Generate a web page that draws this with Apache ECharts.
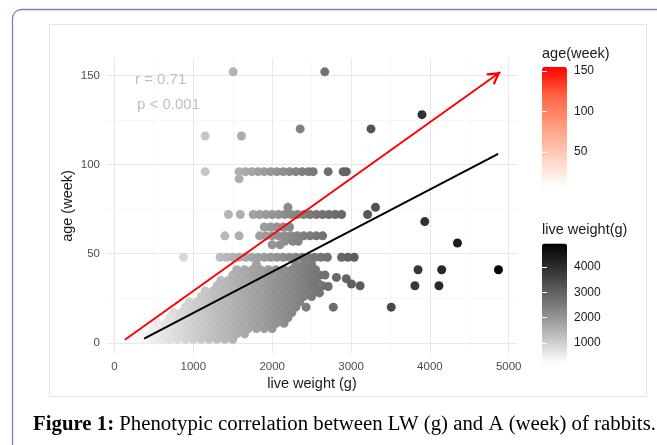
<!DOCTYPE html>
<html>
<head>
<meta charset="utf-8">
<script src="https://cdn.jsdelivr.net/npm/echarts@6/dist/echarts.min.js"></script>
<style>html,body{margin:0;padding:0;background:#fff;}#c{width:657px;height:445px;}</style>
</head>
<body>
<div id="c"></div>
<script>
// ---- tick labels ----
const xTicks = [0, 1000, 2000, 3000, 4000, 5000];
const xMinor = [500, 1500, 2500, 3500, 4500];
const yTicks = [0, 50, 100, 150];
const yMinor = [25, 75, 125];
const ageLegendTicks = [50, 100, 150];
const weightLegendTicks = [1000, 2000, 3000, 4000];

// ---- dense rows of observations: age (week) and live weights (g) ----
const rowAges = [2, 5, 8, 11, 14, 17, 20, 23, 26, 29, 32, 35, 38, 41, 44, 48, 60, 65, 72, 96];
const rowWeights = [
  [300,400,500,600,700,800,900,1000,1100,1200,1300,1400,1500],
  [350,450,550,650,750,850,950,1050,1150,1250,1350,1450,1550,1650],
  [500,600,700,800,900,1000,1100,1200,1300,1400,1500,1600,1700,1800,1900,2000],
  [550,650,750,850,950,1050,1150,1250,1350,1450,1550,1650,1750,1850,1950,2050,2150],
  [700,800,900,1000,1100,1200,1300,1400,1500,1600,1700,1800,1900,2000,2100,2200],
  [750,850,950,1050,1150,1250,1350,1450,1550,1650,1750,1850,1950,2050,2150,2250],
  [900,1000,1100,1200,1300,1400,1500,1600,1700,1800,1900,2000,2100,2200,2300,2430,2775,3510],
  [950,1050,1150,1250,1350,1450,1550,1650,1750,1850,1950,2050,2150,2250,2350],
  [1100,1200,1300,1400,1500,1600,1700,1800,1900,2000,2100,2200,2300,2400,2500],
  [1150,1250,1350,1450,1550,1650,1750,1850,1950,2050,2150,2250,2350,2450,2550],
  [1300,1400,1500,1600,1700,1800,1900,2000,2100,2200,2300,2400,2500,2600,2640,3115],
  [1350,1450,1550,1650,1750,1850,1950,2050,2150,2250,2350,2450,2535],
  [1500,1600,1700,1800,1900,2000,2100,2200,2300,2400,2500,2600,2670],
  [1550,1650,1750,1850,1950,2050,2150,2250,2350,2450,2550,3850,4150,4870],
  [1800,2300,2400,2500],
  [875,1340,1420,1500,1580,1660,1740,1820,1900,1980,2060,2140,2220,2300,2380,2460,2540,2620,2700,2880,2960,3040],
  [1400,1580,1840,1920,2000,2080,2160,2240,2320,2400,2480,2560,2640],
  [1900,1980,2060,2140,2220],
  [1445,1595,1760,1840,1920,2000,2080,2160,2240,2320,2400,2480,2560,2640,2720,2800,2880,3210],
  [1150,1580,1660,1740,1820,1900,1980,2060,2140,2220,2300,2380,2460,2520,2710,2900,2940]
];

// ---- scattered single observations ----
const extraWeight = [1506, 2667, 3900, 2355, 3253, 1150, 1610, 1580, 2200, 3310, 3935, 4350, 2160, 2260, 2330, 2000, 2100, 3810, 4115, 2815, 2940, 3005, 2710, 2580, 2600];
const extraAge    = [152,  152,  128,  120,  120,  116,  116,  92,   76,   76,   68,   56,   57,   57,   57,   55,   55,   32,   32,   36.7, 36,   33,   31.6, 33.6, 28];

// ---- fitted line and arrow ----
const regLine = [[376, 2.4], [4866, 106]];
const arrowLine = [[132, 1.7], [4894, 151.9]];

// ---- annotation texts ----
const statR = 'r = 0.71';
const statP = 'p < 0.001';
const captionBold = 'Figure 1:';
const captionText = ' Phenotypic correlation between LW (g) and A (week) of rabbits.';

// colour scales (Lab-like interpolation stops)
const greyStops = ['#ffffff', '#b9b9b9', '#777777', '#3b3b3b', '#000000'];
const redStops = ['#ffffff', '#ffcfbe', '#ff9e81', '#ff6846', '#ff0000'];

const scatterData = [];
rowAges.forEach((a, i) => rowWeights[i].forEach(w => scatterData.push([w, a])));
extraWeight.forEach((w, i) => scatterData.push([w, extraAge[i]]));

const chart = echarts.init(document.getElementById('c'), null, {renderer: 'canvas'});
const FONT = 'Liberation Sans';
const wMin = 190, wMax = 4930, aMin = 7, aMax = 155;
const plain = v => String(v);

const option = {
  animation: false,
  backgroundColor: '#ffffff',
  textStyle: {fontFamily: FONT},
  grid: [
    {left: 107, top: 58.5, width: 410, height: 295},
    {left: 542, top: 67, width: 25, height: 120},
    {left: 542, top: 243.5, width: 25, height: 120}
  ],
  xAxis: [
    {gridIndex: 0, type: 'value', min: -95, max: 5105,
     axisLine: {show: false}, axisTick: {show: false, customValues: xTicks},
     axisLabel: {customValues: xTicks, formatter: plain, color: '#4d4d4d', fontSize: 11.5, margin: 7, fontFamily: FONT},
     splitLine: {show: true, lineStyle: {color: '#e8e8e8', width: 1}},
     name: 'live weight (g)', nameLocation: 'middle', nameGap: 23, nameMoveOverlap: false,
     nameTextStyle: {fontSize: 14.5, color: '#1a1a1a', fontFamily: FONT}},
    {gridIndex: 0, type: 'value', position: 'top', min: -95, max: 5105,
     axisLine: {show: false}, axisTick: {show: false, customValues: xMinor},
     axisLabel: {show: false, customValues: xMinor},
     splitLine: {show: true, lineStyle: {color: '#f3f3f3', width: 0.7}}},
    {gridIndex: 1, type: 'value', show: false, min: 0, max: 1},
    {gridIndex: 2, type: 'value', show: false, min: 0, max: 1}
  ],
  yAxis: [
    {gridIndex: 0, type: 'value', min: -6, max: 159.5,
     axisLine: {show: false}, axisTick: {show: false, customValues: yTicks},
     axisLabel: {customValues: yTicks, formatter: plain, color: '#4d4d4d', fontSize: 11.5, margin: 7, fontFamily: FONT},
     splitLine: {show: true, lineStyle: {color: '#e8e8e8', width: 1}},
     name: 'age (week)', nameLocation: 'middle', nameGap: 32, nameMoveOverlap: false,
     nameTextStyle: {fontSize: 14.5, color: '#1a1a1a', fontFamily: FONT}},
    {gridIndex: 0, type: 'value', position: 'right', min: -6, max: 159.5,
     axisLine: {show: false}, axisTick: {show: false, customValues: yMinor},
     axisLabel: {show: false, customValues: yMinor},
     splitLine: {show: true, lineStyle: {color: '#f3f3f3', width: 0.7}}},
    {gridIndex: 1, type: 'value', position: 'right', min: aMin, max: aMax, z: 10,
     axisLine: {show: false},
     axisTick: {show: true, inside: true, length: 5, lineStyle: {color: '#ffffff', width: 1}, customValues: ageLegendTicks},
     axisLabel: {customValues: ageLegendTicks, formatter: plain, fontSize: 12, color: '#1a1a1a', margin: 7, fontFamily: FONT},
     splitLine: {show: false}},
    {gridIndex: 1, type: 'value', position: 'left', min: aMin, max: aMax, z: 10,
     axisLine: {show: false},
     axisTick: {show: true, inside: true, length: 5, lineStyle: {color: '#ffffff', width: 1}, customValues: ageLegendTicks},
     axisLabel: {show: false, customValues: ageLegendTicks}, splitLine: {show: false}},
    {gridIndex: 2, type: 'value', position: 'right', min: wMin, max: wMax, z: 10,
     axisLine: {show: false},
     axisTick: {show: true, inside: true, length: 5, lineStyle: {color: '#ffffff', width: 1}, customValues: weightLegendTicks},
     axisLabel: {customValues: weightLegendTicks, formatter: plain, fontSize: 12, color: '#1a1a1a', margin: 7, fontFamily: FONT},
     splitLine: {show: false}},
    {gridIndex: 2, type: 'value', position: 'left', min: wMin, max: wMax, z: 10,
     axisLine: {show: false},
     axisTick: {show: true, inside: true, length: 5, lineStyle: {color: '#ffffff', width: 1}, customValues: weightLegendTicks},
     axisLabel: {show: false, customValues: weightLegendTicks}, splitLine: {show: false}}
  ],
  visualMap: [
    {type: 'continuous', seriesIndex: 0, dimension: 0, min: wMin, max: wMax,
     inRange: {color: greyStops}, left: 542, top: 243.5, itemWidth: 25, itemHeight: 120,
     calculable: false, hoverLink: false, padding: 0, text: null, show: true},
    {type: 'continuous', seriesIndex: 3, dimension: 1, min: aMin, max: aMax,
     inRange: {color: redStops}, left: 542, top: 67, itemWidth: 25, itemHeight: 120,
     calculable: false, hoverLink: false, padding: 0, text: null, show: true}
  ],
  series: [
    {type: 'scatter', xAxisIndex: 0, yAxisIndex: 0, data: scatterData, symbolSize: 9,
     itemStyle: {opacity: 1}, z: 2, silent: true},
    {type: 'line', xAxisIndex: 0, yAxisIndex: 0, data: regLine, symbol: 'none',
     lineStyle: {color: '#000000', width: 2}, z: 3, silent: true},
    {type: 'line', xAxisIndex: 0, yAxisIndex: 0, data: [], z: 4, silent: true,
     markLine: {silent: true, animation: false,
       symbol: ['none', 'path://M6,0 L11.6,9.6 L10,10.5 L6,3.6 L2,10.5 L0.4,9.6 Z'],
       symbolSize: [14, 13], symbolOffset: [[0, 0], [0, 6.5]],
       label: {show: false},
       lineStyle: {color: '#ff0000', width: 2, type: 'solid'},
       itemStyle: {color: '#ff0000'},
       data: [[{coord: arrowLine[0]}, {coord: arrowLine[1]}]]}},
    {type: 'scatter', xAxisIndex: 2, yAxisIndex: 2, data: []},
    {type: 'scatter', xAxisIndex: 3, yAxisIndex: 4, data: []}
  ],
  graphic: [
    {type: 'rect', z: 100, silent: true, shape: {x: 12.5, y: 9.5, width: 700, height: 500, r: 9},
     style: {fill: 'none', stroke: '#8080b4', lineWidth: 1.3}},
    {type: 'rect', z: 100, silent: true, shape: {x: 49.5, y: 24.5, width: 597, height: 372},
     style: {fill: 'none', stroke: '#e4e4e4', lineWidth: 1}},
    {type: 'text', z: 100, silent: true, style: {text: statR, x: 135, y: 80, verticalAlign: 'middle',
      font: '15px "Liberation Sans"', fill: '#c4bcbc'}},
    {type: 'text', z: 100, silent: true, style: {text: statP, x: 137, y: 105, verticalAlign: 'middle',
      font: '15px "Liberation Sans"', fill: '#bcbfc8'}},
    {type: 'text', z: 100, silent: true, style: {text: 'age(week)', x: 542, y: 54, verticalAlign: 'middle',
      font: '14.5px "Liberation Sans"', fill: '#1a1a1a'}},
    {type: 'text', z: 100, silent: true, style: {text: 'live weight(g)', x: 542, y: 230, verticalAlign: 'middle',
      font: '14.5px "Liberation Sans"', fill: '#1a1a1a'}},
    {type: 'text', z: 100, silent: true, style: {
      text: '{b|' + captionBold + '}{r|' + captionText + '}', x: 33, y: 425, verticalAlign: 'middle',
      rich: {
        b: {fontFamily: 'Liberation Serif', fontSize: 20.8, fontWeight: 'bold', fill: '#000'},
        r: {fontFamily: 'Liberation Serif', fontSize: 20.8, fill: '#000'}
      }}}
  ]
};
chart.setOption(option);
</script>
</body>
</html>
